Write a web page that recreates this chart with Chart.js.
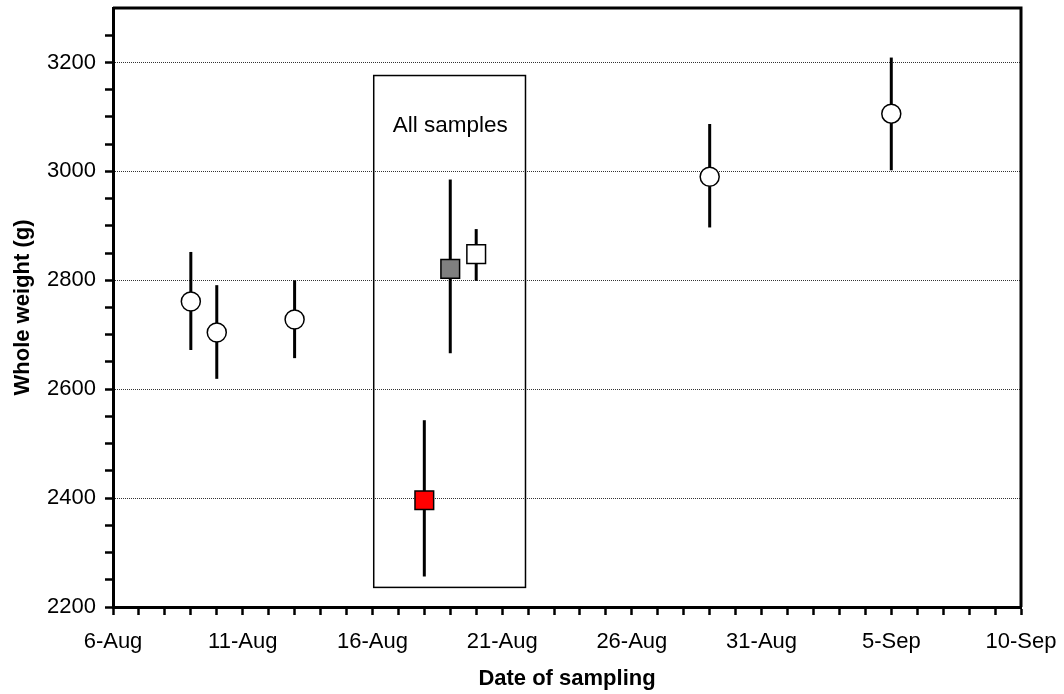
<!DOCTYPE html>
<html><head><meta charset="utf-8">
<script src="https://cdn.jsdelivr.net/npm/chart.js@4/dist/chart.umd.min.js"></script>
<style>html,body{margin:0;padding:0;background:#fff}</style>
</head><body>
<canvas id="c" width="1064" height="694"></canvas>
<script>
// x values are day numbers counted from 1-Aug (32 = 1-Sep)
const xTickLabels = ['6-Aug', '11-Aug', '16-Aug', '21-Aug', '26-Aug', '31-Aug', '5-Sep', '10-Sep'];
const yTickLabels = ['2200', '2400', '2600', '2800', '3000', '3200'];

const circleDays    = [9, 10, 13, 29, 36];
const circleWeights = [2761, 2704, 2728, 2990, 3106];
const circleLow     = [2672, 2619, 2657, 2897, 3002];
const circleHigh    = [2852, 2791, 2800, 3087, 3209];

const redDays = [18];
const redWeights = [2396];
const redLow = [2256];
const redHigh = [2543];

const greyDays = [19];
const greyWeights = [2821];
const greyLow = [2666];
const greyHigh = [2985];

const whiteSqDays = [20];
const whiteSqWeights = [2848];
const whiteSqLow = [2799];
const whiteSqHigh = [2894];

const boxDays = [16.05, 21.9];
const boxWeights = [2236, 3176];
const boxLabel = 'All samples';
const boxLabelDay = 19;
const boxLabelWeight = 3084;

const FONT = '"Liberation Sans", Arial, sans-serif';

function pts(xs, ys) { return xs.map((x, i) => ({x: x, y: ys[i]})); }

const errorSets = [];
function addErr(xs, lo, hi) {
  xs.forEach((x, i) => {
    errorSets.push({
      type: 'scatter', showLine: true, data: [{x: x, y: lo[i]}, {x: x, y: hi[i]}],
      borderColor: '#000', borderWidth: 3, pointRadius: 0, borderCapStyle: 'butt', order: 5
    });
  });
}
addErr(circleDays, circleLow, circleHigh);
addErr(redDays, redLow, redHigh);
addErr(greyDays, greyLow, greyHigh);
addErr(whiteSqDays, whiteSqLow, whiteSqHigh);

const markerSets = [
  {data: pts(circleDays, circleWeights), pointStyle: 'circle', pointRadius: 9.5, backgroundColor: '#fff', borderColor: '#000', borderWidth: 1.5, order: 1},
  {data: pts(redDays, redWeights), pointStyle: 'rect', pointRadius: 13.2, backgroundColor: '#ff0000', borderColor: '#000', borderWidth: 1.5, order: 1},
  {data: pts(greyDays, greyWeights), pointStyle: 'rect', pointRadius: 13.2, backgroundColor: '#808080', borderColor: '#000', borderWidth: 1.5, order: 1},
  {data: pts(whiteSqDays, whiteSqWeights), pointStyle: 'rect', pointRadius: 13.2, backgroundColor: '#fff', borderColor: '#000', borderWidth: 1.5, order: 1}
].map(d => Object.assign({type: 'scatter', showLine: false, pointHoverRadius: d.pointRadius}, d));

const framePlugin = {
  id: 'frameBox',
  afterDatasetsDraw(chart) {
    const {ctx, chartArea: a, scales: {x, y}} = chart;
    ctx.save();
    // annotation box
    const x1 = x.getPixelForValue(boxDays[0]), x2 = x.getPixelForValue(boxDays[1]);
    const y1 = y.getPixelForValue(boxWeights[1]), y2 = y.getPixelForValue(boxWeights[0]);
    ctx.strokeStyle = '#000';
    ctx.lineWidth = 1.5;
    ctx.strokeRect(x1, y1, x2 - x1, y2 - y1);
    ctx.fillStyle = '#000';
    ctx.font = '22.5px ' + FONT;
    ctx.textAlign = 'center';
    ctx.textBaseline = 'middle';
    ctx.fillText(boxLabel, x.getPixelForValue(boxLabelDay), y.getPixelForValue(boxLabelWeight));
    // frame
    ctx.lineWidth = 3;
    ctx.beginPath();
    ctx.moveTo(a.left, a.top);
    ctx.lineTo(a.right, a.top);
    ctx.lineTo(a.right, a.bottom);
    ctx.stroke();
    ctx.restore();
  }
};

new Chart(document.getElementById('c'), {
  type: 'scatter',
  data: {datasets: markerSets.concat(errorSets)},
  options: {
    responsive: false,
    animation: false,
    events: [],
    layout: {autoPadding: false, padding: {left: 0, right: 43, top: 8, bottom: 0}},
    plugins: {legend: {display: false}, tooltip: {enabled: false}},
    scales: {
      x: {
        type: 'linear', min: 6, max: 41,
        afterFit(s) { s.height = 87; s.paddingLeft = 0; s.paddingRight = 0; },
        ticks: {
          stepSize: 1, autoSkip: false, maxRotation: 0, padding: 14,
          color: '#000', font: {family: FONT, size: 22},
          callback: v => ((v - 6) % 5 === 0 ? xTickLabels[(v - 6) / 5] : '')
        },
        grid: {color: 'transparent', tickColor: '#000', tickLength: 8, tickWidth: 2.5},
        border: {display: true, color: '#000', width: 3},
        title: {display: true, text: 'Date of sampling', color: '#000',
          font: {family: FONT, size: 22, weight: 'bold'}, padding: {top: 0, bottom: 2}}
      },
      y: {
        type: 'linear', min: 2200, max: 3300,
        afterFit(s) { s.width = 113; s.paddingTop = 0; s.paddingBottom = 0; },
        ticks: {
          stepSize: 50, autoSkip: false, padding: 9,
          color: '#000', font: {family: FONT, size: 22},
          callback: v => (v >= 3300 ? null : (v % 200 === 0 ? yTickLabels[(v - 2200) / 200] : ''))
        },
        grid: {
          color: c => (c.tick && c.tick.value % 200 === 0 && c.tick.value > 2200 && c.tick.value < 3300) ? '#333' : 'transparent',
          lineWidth: 1, tickColor: '#000', tickLength: 8, tickWidth: 2.5
        },
        border: {display: true, color: '#000', width: 3, dash: [1, 1]},
        title: {display: true, text: 'Whole weight (g)', color: '#000',
          font: {family: FONT, size: 22, weight: 'bold'}, padding: {top: 10, bottom: 0}}
      }
    }
  },
  plugins: [framePlugin]
});
</script>
</body></html>
